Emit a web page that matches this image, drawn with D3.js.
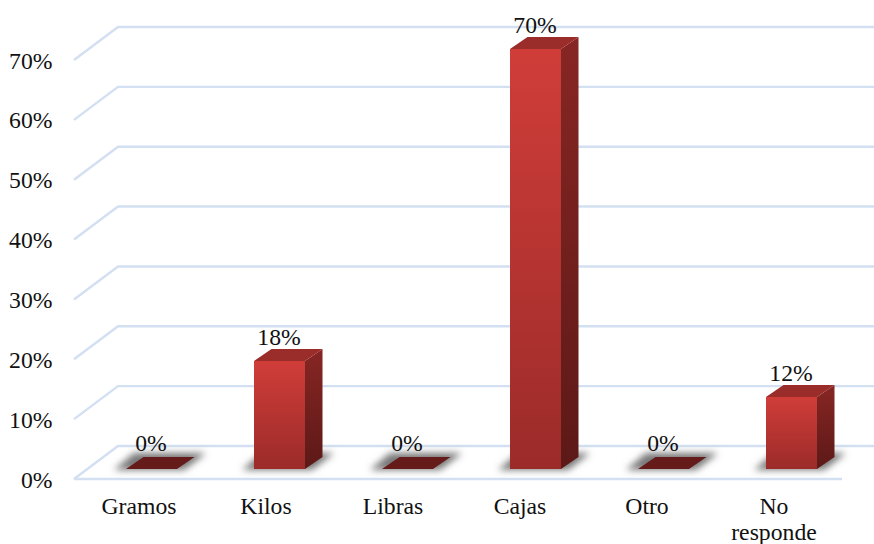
<!DOCTYPE html>
<html><head><meta charset="utf-8">
<script src="https://cdn.jsdelivr.net/npm/d3@7/dist/d3.min.js"></script>
<style>html,body{margin:0;padding:0;background:#fff}svg{display:block}text{font-family:"Liberation Serif",serif;fill:#111}</style>
</head><body><svg id="c" width="874" height="544"></svg>
<script>
const categories = ["Gramos","Kilos","Libras","Cajas","Otro","No responde"];
const values = [0,18,0,70,0,12];
const yTicks = [0,10,20,30,40,50,60,70];

const svg = d3.select("#c");
const defs = svg.append("defs");
function grad(id, stops){
  const g = defs.append("linearGradient").attr("id",id).attr("x1",0).attr("y1",0).attr("x2",0).attr("y2",1);
  stops.forEach(([o,c])=>g.append("stop").attr("offset",o).attr("stop-color",c));
}
grad("front",[[0,"#d03d39"],[1,"#9b2b29"]]);
grad("side",[[0,"#872624"],[1,"#5c1917"]]);
defs.append("filter").attr("id","blur").attr("x","-30%").attr("y","-50%").attr("width","160%").attr("height","200%")
  .append("feGaussianBlur").attr("stdDeviation",3.6);
defs.append("filter").attr("id","soft").attr("filterUnits","userSpaceOnUse").attr("x",0).attr("y",0).attr("width",874).attr("height",544)
  .append("feGaussianBlur").attr("stdDeviation",0.5);

const xBar = d3.scaleBand().domain(categories).range([87.5,855.5]);
const xLabel = d3.scaleBand().domain(categories).range([75.5,837.5]);
const yAxisScale = d3.scaleLinear().domain([0,70]).range([479,60]);
const yBar = d3.scaleLinear().domain([0,70]).range([469,49]);
const dxWall = 44, dyWall = 33, dxBar = 17.5, dyBar = 12, barW = 51;
const fontSize = 23.7;

// wall gridlines and left side diagonals
const grid = svg.append("g").attr("fill","none").attr("stroke","#d3e0f1").attr("stroke-width",2.4).attr("filter","url(#soft)");
yTicks.forEach(t=>{
  const yf = yAxisScale(t), yb = yf - dyWall;
  grid.append("path").attr("d",`M74,${yf}L${74+dxWall},${yb}L874,${yb}`);
});
grid.append("path").attr("d",`M74,${yAxisScale(0)}L842,${yAxisScale(0)}`);

// y axis labels
const yAxis = d3.axisLeft(yAxisScale).tickValues(yTicks).tickFormat(d=>d+"%").tickSize(0).tickPadding(0);
const ga = svg.append("g").attr("transform","translate(52.5,0.5)").call(yAxis);
ga.select(".domain").remove();
ga.selectAll("text").attr("font-size",fontSize).attr("fill","#111").attr("font-family","Liberation Serif");

// x axis labels
const xLab = svg.append("g").attr("font-size",fontSize).attr("text-anchor","middle");
categories.forEach(c=>{
  const cx = xLabel(c)+xLabel.bandwidth()/2;
  const t = xLab.append("text").attr("y",514);
  c.split(" ").forEach((w,i)=>t.append("tspan").attr("x",cx).attr("dy",i?26:0).text(w));
});

// bars
const bars = svg.append("g").selectAll("g").data(categories.map((c,i)=>({c,v:values[i]}))).join("g");
bars.each(function(d){
  const g = d3.select(this);
  const x0 = xBar(d.c)+xBar.bandwidth()/2-barW/2, x1 = x0+barW;
  const yb = yBar(0), yt = yBar(d.v);
  g.append("polygon").attr("points",[[x0-12,yb+1],[x1+7,yb+1],[x1+29,yb-16],[x0+8,yb-16]].join(" "))
    .attr("fill","#777").attr("filter","url(#blur)");
  if(d.v===0){
    g.append("polygon").attr("points",[[x0,yb],[x1,yb],[x1+dxBar,yb-dyBar],[x0+dxBar,yb-dyBar]].join(" ")).attr("fill","#651b19");
  } else {
    g.append("rect").attr("x",x0).attr("y",yt).attr("width",barW).attr("height",yb-yt).attr("fill","url(#front)");
    g.append("polygon").attr("points",[[x1,yt],[x1+dxBar,yt-dyBar],[x1+dxBar,yb-dyBar],[x1,yb]].join(" ")).attr("fill","url(#side)");
    g.append("polygon").attr("points",[[x0,yt],[x0+dxBar,yt-dyBar],[x1+dxBar,yt-dyBar],[x1,yt]].join(" ")).attr("fill","#9a2c2a");
  }
  g.append("text").attr("x",(x0+x1)/2-0.5).attr("y",yt-(d.v?16.5:18.5)).attr("text-anchor","middle").attr("font-size",fontSize).text(d.v+"%");
});
</script></body></html>
